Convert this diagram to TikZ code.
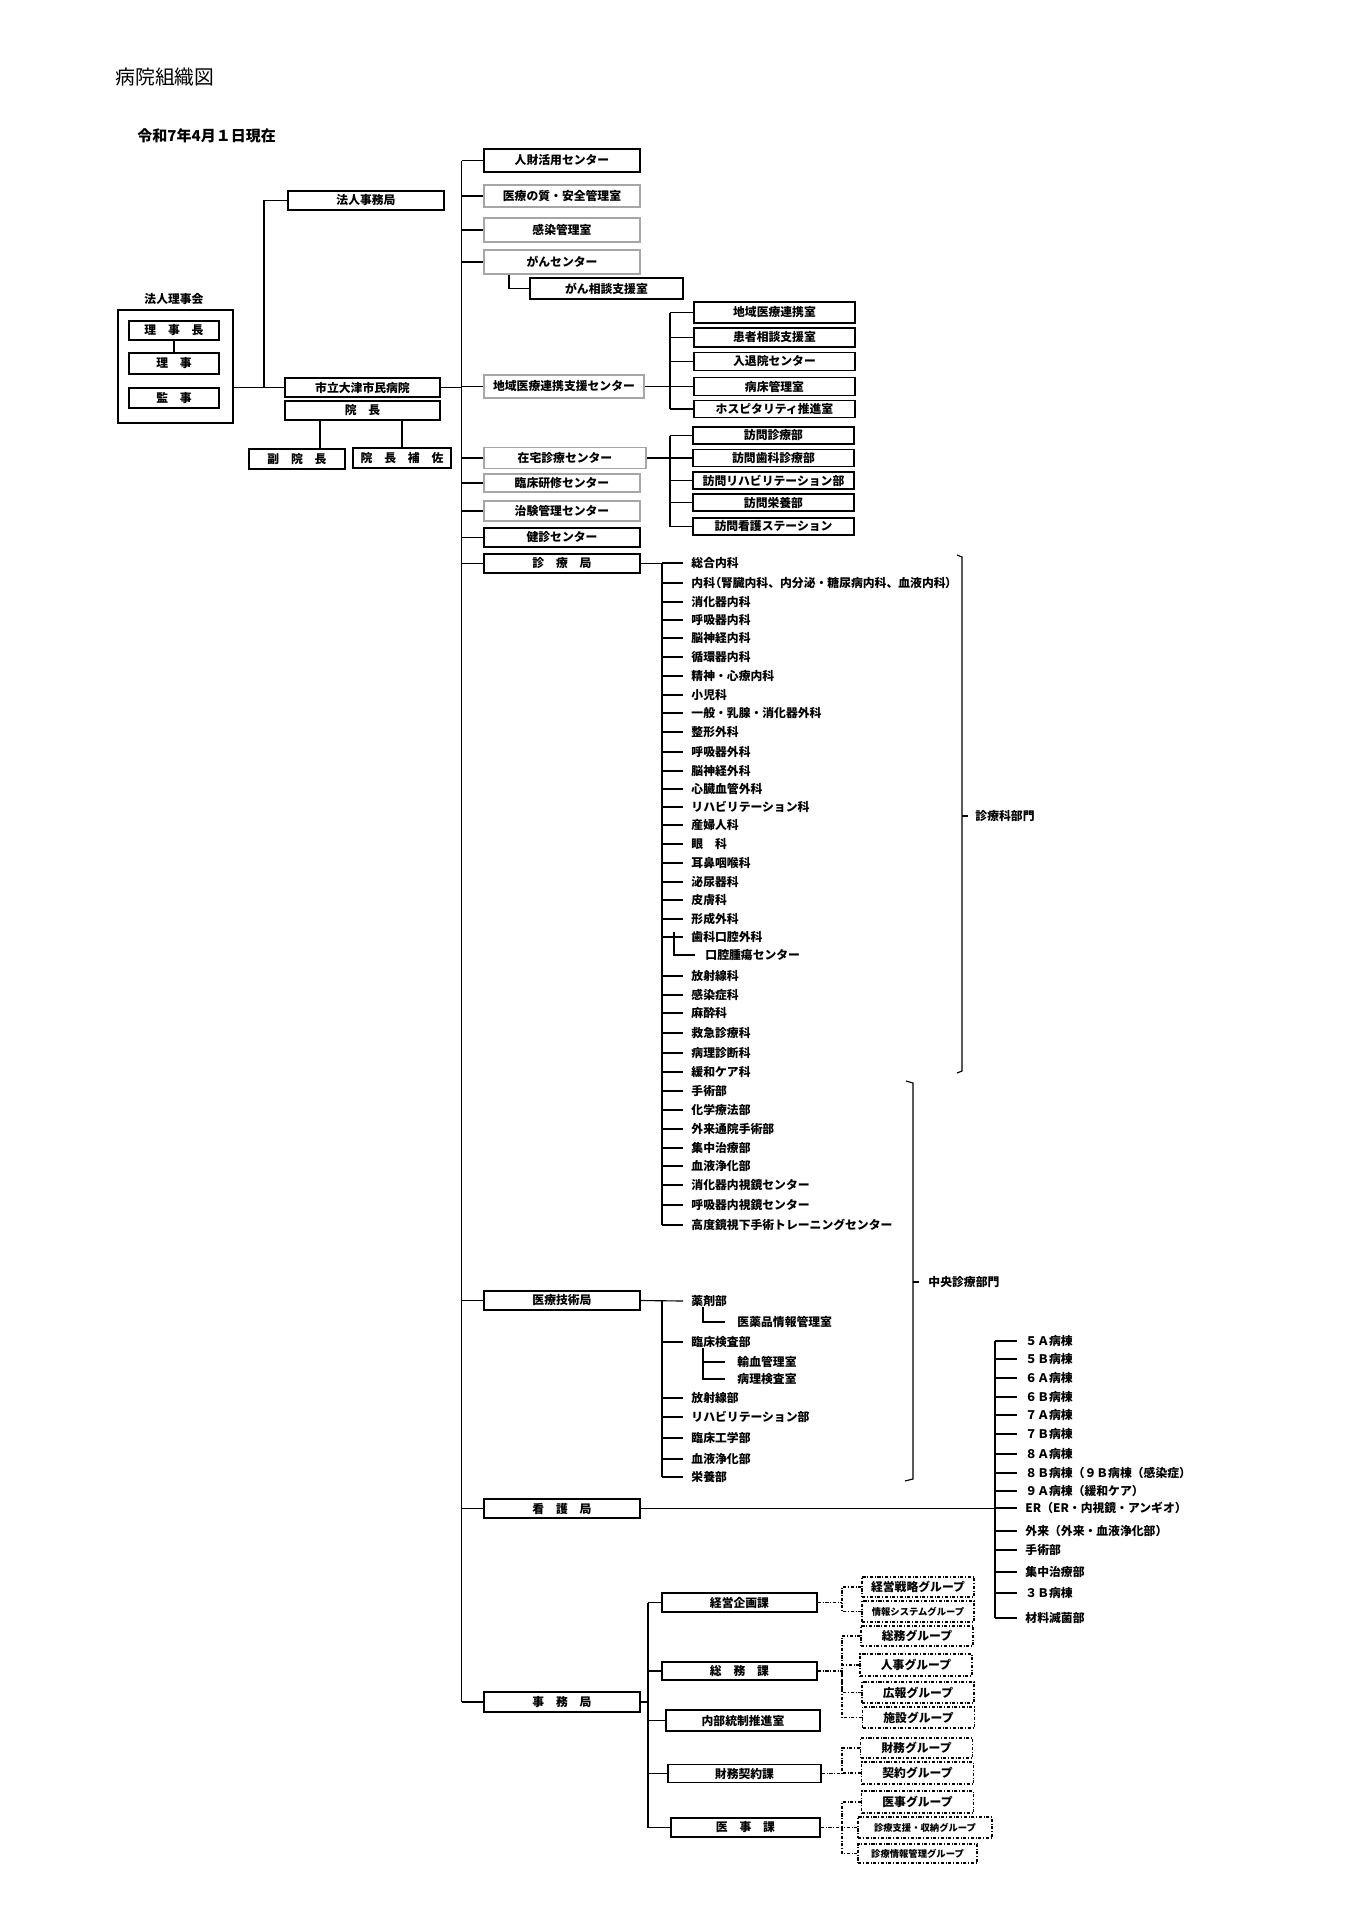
\documentclass[tikz,border=0pt]{standalone}
\usepackage{fontspec}
\setmainfont{Noto Sans CJK JP}
\newfontfamily\pfont{Noto Sans CJK JP}[RawFeature=+palt]
\usetikzlibrary{calc}
\def\pxu{0.0154639cm}
\newcommand\lbl{\fontsize{5.2}{6}\selectfont\bfseries}
\newcommand\sml{\fontsize{4.1}{5}\selectfont\bfseries}
\tikzset{
  box/.style={draw, line width=0.6pt, inner sep=0pt, minimum width=156*\pxu, minimum height=20*\pxu, font=\lbl},
  graybox/.style={box, draw=black!35},
  grp/.style={box, line width=0.5pt, dash pattern=on 1.5pt off 0.7pt on 0.4pt off 0.7pt, minimum width=112*\pxu},
  item/.style={anchor=west, inner sep=0pt, font=\lbl},
  conn/.style={line width=0.5pt},
  dconn/.style={line width=0.5pt, dash pattern=on 1.5pt off 0.7pt on 0.4pt off 0.7pt}
}

\begin{document}
\begin{tikzpicture}[x=0.0154639cm, y=-0.0154639cm]
  \fill[white] (0,0) rectangle (1358,1920);
  \useasboundingbox (0,0) rectangle (1358,1920);

  \node[anchor=west, inner sep=0pt, font=\fontsize{8.7}{10}\selectfont] (title) at (115,77) {病院組織図};
  \node[anchor=west, inner sep=0pt, font=\fontsize{6.6}{8}\selectfont\bfseries] (date) at (137,136) {令和7年4月１日現在};

  \node[draw, line width=0.6pt, minimum width=115*\pxu, minimum height=113*\pxu] (board) at (175.5,366.5) {};
  \node[font=\lbl] (rijikai) at (174,299) {法人理事会};
  \node[box, minimum width=90*\pxu, minimum height=19*\pxu] (richo) at (174,330.5) {理　事　長};
  \node[box, minimum width=90*\pxu, minimum height=21*\pxu] (riji) at (174,363.5) {理　事};
  \node[box, minimum width=90*\pxu] (kanji) at (174,398) {監　事};
  \draw[conn] (richo) -- (riji);

  \node[box, minimum height=19*\pxu] (hojin) at (366,200.5) {法人事務局};
  \node[box, minimum width=155*\pxu, minimum height=19*\pxu] (hosp) at (362.5,387.5) {市立大津市民病院};
  \node[box, minimum width=155*\pxu, minimum height=19*\pxu] (incho) at (362.5,410.5) {院　長};
  \node[box, minimum width=96*\pxu] (fuku) at (297,459) {副　院　長};
  \node[box, minimum width=98*\pxu] (hosa) at (402,458) {院　長　補　佐};
  \coordinate (hj) at (264,387.5);
  \coordinate (fukutop) at ($(fuku.north)+(23,0)$);
  \draw[conn] (board.east |- hosp.west) -- (hosp.west);
  \draw[conn] (hojin.west) -| (hj);
  \draw[conn] (incho.south -| fukutop) -- (fukutop);
  \draw[conn] (incho.south -| hosa.north) -- (hosa.north);

  \node[box, minimum height=23*\pxu] (jinzai) at (562,160.5) {人財活用センター};
  \node[graybox, minimum height=22*\pxu] (shitsu) at (562,196) {医療の質・安全管理室};
  \node[graybox, minimum height=24*\pxu] (kansen) at (562,230) {感染管理室};
  \node[graybox, minimum height=24*\pxu] (gan) at (562,262) {がんセンター};
  \node[box, minimum width=153*\pxu, minimum height=21*\pxu] (gansodan) at (606.5,288.5) {がん相談支援室};
  \node[graybox, minimum width=160*\pxu, minimum height=23*\pxu] (chiiki) at (564,386.5) {地域医療連携支援センター};
  \node[graybox, minimum width=162*\pxu, minimum height=21*\pxu] (zaitaku) at (565,458) {在宅診療センター};
  \node[graybox, minimum height=18*\pxu] (rinsho) at (562,483) {臨床研修センター};
  \node[graybox] (chiken) at (562,511) {治験管理センター};
  \node[box, minimum height=19*\pxu] (kenshin) at (562,537.5) {健診センター};
  \node[box, minimum height=19*\pxu] (shinryo) at (562,563.5) {診　療　局};
  \node[box, minimum height=19*\pxu] (gijutsu) at (562,1300.5) {医療技術局};
  \node[box, minimum height=19*\pxu] (kango) at (562,1508.5) {看　護　局};
  \node[box] (jimu) at (562,1702) {事　務　局};

  \coordinate (trk) at (461.6,0);
  \draw[conn] (jinzai.west -| trk) -- (jimu.west -| trk);
  \foreach \nm in {jinzai,shitsu,kansen,gan,chiiki,zaitaku,rinsho,chiken,kenshin,shinryo,gijutsu,kango,jimu}
    \draw[conn] (\nm.west -| trk) -- (\nm.west);
  \draw[conn] (hosp.east) -- (hosp.east -| trk);
  \coordinate (gj) at (509,0);
  \draw[conn] (gan.south -| gj) |- (gansodan.west);

  \node[box, minimum width=161*\pxu, minimum height=21*\pxu] (renkei) at (774.5,312.5) {地域医療連携室};
  \node[box, minimum width=161*\pxu, minimum height=19*\pxu] (kanja) at (774.5,337.5) {患者相談支援室};
  \node[box, minimum width=161*\pxu, minimum height=18*\pxu] (nyutai) at (774.5,361.5) {入退院センター};
  \node[box, minimum width=161*\pxu, minimum height=18*\pxu] (byosho) at (774.5,386.5) {病床管理室};
  \node[box, minimum width=161*\pxu, minimum height=17*\pxu] (hospi) at (774.5,409) {ホスピタリティ推進室};
  \node[box, minimum width=161*\pxu, minimum height=17*\pxu] (homon1) at (773.5,435.5) {訪問診療部};
  \node[box, minimum width=161*\pxu, minimum height=17*\pxu] (homon2) at (773.5,458) {訪問歯科診療部};
  \node[box, minimum width=161*\pxu, minimum height=17*\pxu] (homon3) at (773.5,480.5) {訪問リハビリテーション部};
  \node[box, minimum width=161*\pxu, minimum height=17*\pxu] (homon4) at (773.5,502.5) {訪問栄養部};
  \node[box, minimum width=161*\pxu, minimum height=17*\pxu] (homon5) at (773.5,526.5) {訪問看護ステーション};
  \coordinate (cj) at (670,0);
  \draw[conn] (chiiki.east) -- (byosho.west);
  \draw[conn] (renkei.west -| cj) -- (hospi.west -| cj);
  \foreach \nm in {renkei,kanja,nyutai,hospi}
    \draw[conn] (\nm.west -| cj) -- (\nm.west);
  \draw[conn] (zaitaku.east) -- (homon2.west);
  \draw[conn] (homon1.west -| cj) -- (homon5.west -| cj);
  \foreach \nm in {homon1,homon3,homon4,homon5}
    \draw[conn] (\nm.west -| cj) -- (\nm.west);

  \coordinate (sj) at (662,0);
  \foreach \nm/\yy/\txt in {1/563/総合内科, 2/583/{内科{\pfont （}腎臓内科、内分泌・糖尿病内科、血液内科{\pfont ）}},
      3/602/消化器内科, 4/620/呼吸器内科, 5/638/脳神経内科, 6/657/循環器内科, 7/676/精神・心療内科,
      8/695/小児科, 9/713/一般・乳腺・消化器外科, 10/732/整形外科, 11/752/呼吸器外科, 12/771/脳神経外科,
      13/789/心臓血管外科, 14/807/リハビリテーション科, 15/825/産婦人科, 16/844/眼　科, 17/863/耳鼻咽喉科,
      18/882/泌尿器科, 19/900/皮膚科, 20/919/形成外科, 21/937/歯科口腔外科, 22/976/放射線科,
      23/995/感染症科, 24/1013/麻酔科, 25/1033/救急診療科, 26/1053/病理診断科, 27/1072/緩和ケア科,
      28/1091/手術部, 29/1110/化学療法部, 30/1129/外来通院手術部, 31/1148/集中治療部, 32/1166/血液浄化部,
      33/1185/消化器内視鏡センター, 34/1205/呼吸器内視鏡センター, 35/1225/高度鏡視下手術トレーニングセンター} {
    \node[item] (sk\nm) at (691,\yy) {\txt};
    \draw[conn] (sk\nm.west -| sj) -- ([xshift=-8*\pxu]sk\nm.west);
  }
  \node[item] (oral) at (705,955) {口腔腫瘍センター};
  \draw[conn] (shinryo.east) -- (shinryo.east -| sj);
  \draw[conn] (sk1.west -| sj) -- (sk35.west -| sj);
  \draw[conn] ([shift={(-17,-5)}]sk21.west) |- ([xshift=-10*\pxu]oral.west);

  \node[item] (shinka) at (975,816) {診療科部門};
  \draw[conn] (957,555) -- (962,557) -- (962,1071) -- (957,1073);
  \draw[conn] (962,816) -- ([xshift=-7*\pxu]shinka.west);
  \node[item] (chuo) at (928,1282) {中央診療部門};
  \draw[conn] (906,1081) -- (913,1083) -- (913,1479) -- (905,1481);
  \draw[conn] (913,1282) -- ([xshift=-9*\pxu]chuo.west);

  \node[item] (gt1) at (691,1301) {薬剤部};
  \node[item] (gt1a) at (737,1322) {医薬品情報管理室};
  \node[item] (gt2) at (691,1342) {臨床検査部};
  \node[item] (gt2a) at (737,1362) {輸血管理室};
  \node[item] (gt2b) at (737,1379) {病理検査室};
  \node[item] (gt3) at (691,1398) {放射線部};
  \node[item] (gt4) at (691,1417) {リハビリテーション部};
  \node[item] (gt5) at (691,1438) {臨床工学部};
  \node[item] (gt6) at (691,1459) {血液浄化部};
  \node[item] (gt7) at (691,1477) {栄養部};
  \draw[conn] (gijutsu.east) -- ([xshift=-8*\pxu]gt1.west);
  \draw[conn] (gt1.west -| sj) -- (gt7.west -| sj);
  \foreach \nm in {2,3,4,5,6,7}
    \draw[conn] (gt\nm.west -| sj) -- ([xshift=-8*\pxu]gt\nm.west);
  \coordinate (tj) at (703,0);
  \draw[conn] (gt1.south -| tj) |- ([xshift=-12*\pxu]gt1a.west);
  \draw[conn] (gt2.south -| tj) |- ([xshift=-12*\pxu]gt2b.west);
  \draw[conn] (gt2a.west -| tj) -- ([xshift=-12*\pxu]gt2a.west);

  \coordinate (wj) at (995,0);
  \foreach \nm/\yy/\txt in {1/1341/５Ａ病棟, 2/1359/５Ｂ病棟, 3/1378/６Ａ病棟, 4/1397/６Ｂ病棟, 5/1415/７Ａ病棟,
      6/1434/７Ｂ病棟, 7/1454/８Ａ病棟, 8/1473/８Ｂ病棟（９Ｂ病棟（感染症）, 9/1491/９Ａ病棟（緩和ケア）,
      10/1508/ER（ER・内視鏡・アンギオ）, 11/1531/外来（外来・血液浄化部）, 12/1550/手術部,
      13/1572/集中治療部, 14/1593/３Ｂ病棟, 15/1618/材料滅菌部} {
    \node[item] (wd\nm) at (1025,\yy) {\txt};
    \draw[conn] (wd\nm.west -| wj) -- ([xshift=-8*\pxu]wd\nm.west);
  }
  \draw[conn] (kango.east) -- (kango.east -| wj);
  \draw[conn] (wd1.west -| wj) -- (wd15.west -| wj);

  \node[box, minimum width=155*\pxu, minimum height=19*\pxu] (keiei) at (739.5,1602.5) {経営企画課};
  \node[box, minimum width=155*\pxu, minimum height=18*\pxu] (somu) at (739.5,1671) {総　務　課};
  \node[box, minimum width=154*\pxu, minimum height=21*\pxu] (naibu) at (743,1720.5) {内部統制推進室};
  \node[box, minimum width=153*\pxu, minimum height=18*\pxu] (zaimu) at (744.5,1773.5) {財務契約課};
  \node[box, minimum width=149*\pxu, minimum height=19*\pxu] (iji) at (745.5,1827.5) {医　事　課};
  \coordinate (jj) at (648,0);
  \draw[conn] (jimu.east) -- (jimu.east -| jj);
  \draw[conn] (keiei.west -| jj) -- (iji.west -| jj);
  \foreach \nm in {keiei,somu,naibu,zaimu,iji}
    \draw[conn] (\nm.west -| jj) -- (\nm.west);

  \node[grp] (g1) at (918,1587) {経営戦略グループ};
  \node[grp, minimum height=21*\pxu, font=\sml] (g2) at (918,1611.5) {情報システムグループ};
  \node[grp] (g3) at (917,1636) {総務グループ};
  \node[grp, minimum height=22*\pxu] (g4) at (916,1665) {人事グループ};
  \node[grp, minimum height=21*\pxu] (g5) at (918,1692.5) {広報グループ};
  \node[grp, minimum height=21*\pxu] (g6) at (918.5,1717.5) {施設グループ};
  \node[grp] (g7) at (916.5,1748) {財務グループ};
  \node[grp, minimum height=22*\pxu] (g8) at (917.5,1773) {契約グループ};
  \node[grp, minimum height=22*\pxu] (g9) at (917.5,1802) {医事グループ};
  \node[grp, minimum width=134*\pxu, minimum height=21*\pxu, font=\sml] (g10) at (925,1827.5) {診療支援・収納グループ};
  \node[grp, minimum width=119*\pxu, minimum height=19*\pxu, font=\sml] (g11) at (917.5,1853.5) {診療情報管理グループ};
  \coordinate (k1) at (842,1602.5);
  \coordinate (k2) at (842,1671);
  \coordinate (k3) at (842,1773.5);
  \coordinate (k4) at (842,1827.5);
  \draw[dconn] (keiei.east) -- (k1);
  \draw[dconn] (somu.east) -- (k2);
  \draw[dconn] (zaimu.east) -- (k3);
  \draw[dconn] (iji.east) -- (k4);
  \foreach \nm in {g1,g2} \draw[dconn] (\nm.west) -| (k1);
  \foreach \nm in {g3,g4,g5,g6} \draw[dconn] (\nm.west) -| (k2);
  \foreach \nm in {g7,g8} \draw[dconn] (\nm.west) -| (k3);
  \foreach \nm in {g9,g10,g11} \draw[dconn] (\nm.west) -| (k4);
\end{tikzpicture}
\end{document}
